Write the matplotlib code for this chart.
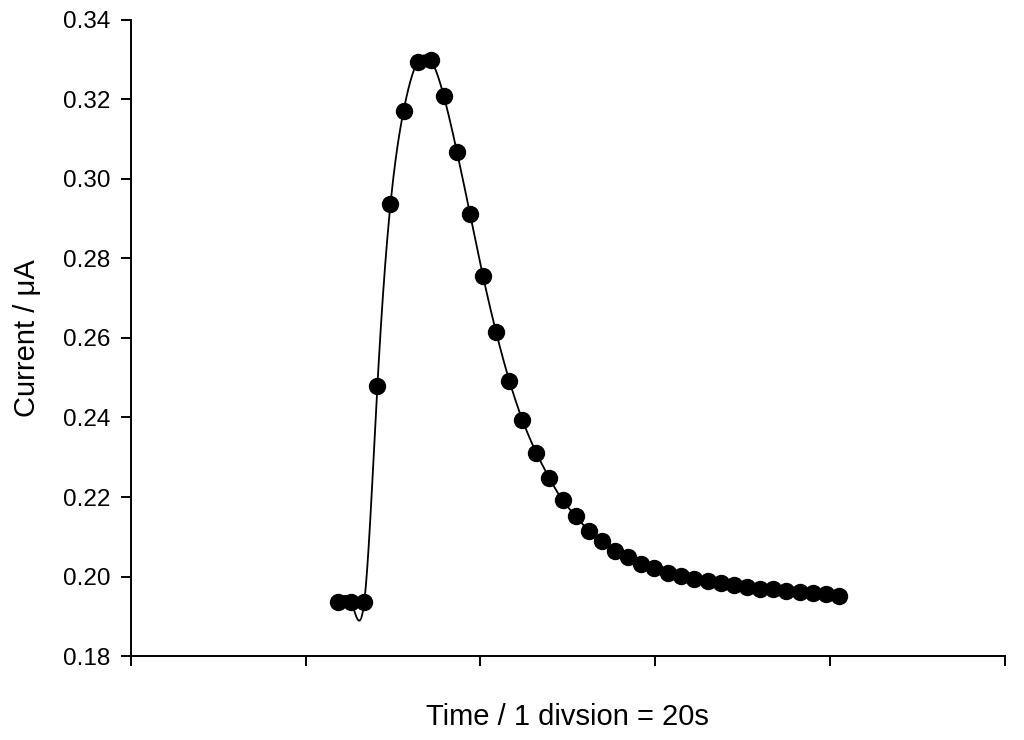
import numpy as np
import matplotlib
matplotlib.use('Agg')
import matplotlib.pyplot as plt

# time in s (1 division = 20 s) and current in uA
time_s = [23.7, 25.2, 26.7, 28.2, 29.7, 31.2, 32.8, 34.3, 35.8, 37.3,
          38.8, 40.3, 41.8, 43.3, 44.8, 46.4, 47.9, 49.4, 50.9, 52.4,
          53.9, 55.4, 56.9, 58.4, 59.9, 61.5, 63.0, 64.5, 66.0, 67.5,
          69.0, 70.5, 72.0, 73.5, 75.0, 76.6, 78.1, 79.6, 81.1]
current_ua = [0.1937, 0.1936, 0.1937, 0.2480, 0.2937, 0.3172, 0.3295, 0.3300,
              0.3209, 0.3069, 0.2913, 0.2755, 0.2614, 0.2493, 0.2394, 0.2311,
              0.2247, 0.2192, 0.2152, 0.2115, 0.2089, 0.2065, 0.2048, 0.2031,
              0.2022, 0.2010, 0.2002, 0.1994, 0.1989, 0.1983, 0.1978, 0.1973,
              0.1969, 0.1968, 0.1964, 0.1960, 0.1958, 0.1955, 0.1951]
x_ticks = [0, 20, 40, 60, 80, 100]
y_ticks = [0.18, 0.20, 0.22, 0.24, 0.26, 0.28, 0.30, 0.32, 0.34]


def natural_spline(x, y, n=2000):
    # plain natural cubic spline, no scipy needed
    x = np.asarray(x, float)
    y = np.asarray(y, float)
    k = len(x)
    h = np.diff(x)
    A = np.zeros((k, k))
    b = np.zeros(k)
    A[0, 0] = A[-1, -1] = 1
    for i in range(1, k - 1):
        A[i, i - 1] = h[i - 1]
        A[i, i] = 2 * (h[i - 1] + h[i])
        A[i, i + 1] = h[i]
        b[i] = 6 * ((y[i + 1] - y[i]) / h[i] - (y[i] - y[i - 1]) / h[i - 1])
    m = np.linalg.solve(A, b)
    xs = np.linspace(x[0], x[-1], n)
    idx = np.clip(np.searchsorted(x, xs) - 1, 0, k - 2)
    x0, x1 = x[idx], x[idx + 1]
    hh = x1 - x0
    t0, t1 = x1 - xs, xs - x0
    ys = (m[idx] * t0**3 + m[idx + 1] * t1**3) / (6 * hh) \
        + (y[idx] / hh - m[idx] * hh / 6) * t0 \
        + (y[idx + 1] / hh - m[idx + 1] * hh / 6) * t1
    return xs, ys


plt.rcParams['font.family'] = ['Liberation Sans', 'DejaVu Sans']

fig = plt.figure(figsize=(10.24, 7.4), dpi=100)
ax = fig.add_axes([0.128, 0.1135, 0.853, 0.8595])

xs, ys = natural_spline(time_s, current_ua)
ax.plot(xs, ys, color='black', lw=1.3, zorder=2)
ax.plot(time_s, current_ua, 'o', color='black', ms=11.5, zorder=3)

ax.set_xlim(0, 100)
ax.set_ylim(0.18, 0.34)
ax.set_xticks(x_ticks)
ax.set_xticklabels([])
ax.set_yticks(y_ticks)
ax.set_yticklabels([f'{v:.2f}' for v in y_ticks])
ax.tick_params(direction='out', length=7, width=1.4, labelsize=17.5, pad=8)
ax.spines['top'].set_visible(False)
ax.spines['right'].set_visible(False)
ax.spines['left'].set_linewidth(1.4)
ax.spines['bottom'].set_linewidth(1.4)

ax.set_ylabel('Current / μA', fontsize=21, va='center')
ax.yaxis.set_label_coords(-0.119, 0.5)
ax.set_xlabel('Time / 1 divsion = 20s', fontsize=21, va='center')
ax.xaxis.set_label_coords(0.5, -0.096)

fig.savefig('out.png', dpi=100)
